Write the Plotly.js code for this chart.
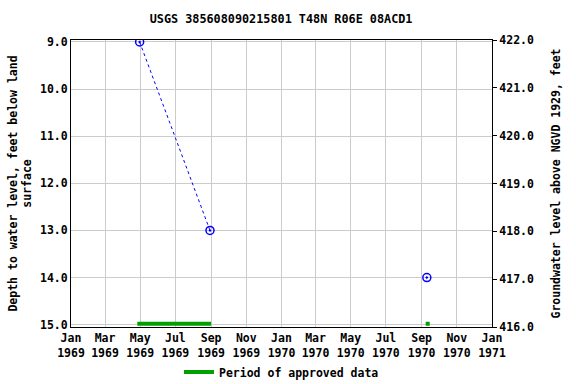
<!DOCTYPE html>
<html>
<head>
<meta charset="utf-8">
<script src="https://cdn.plot.ly/plotly-3.0.1.min.js"></script>
<style>html,body{margin:0;padding:0;background:#fff;}#chart{width:576px;height:384px;}</style>
</head>
<body>
<div id="chart"></div>
<script>
// Measurements
const measDates = ['1969-04-30', '1969-08-30', '1970-09-10'];
const measDepth = [9.0, 13.0, 14.0];
// Approved-data periods
const apprStart = ['1969-04-26', '1970-09-08'];
const apprEnd   = ['1969-09-01', '1970-09-15'];
const apprLevel = 14.98;
// Axis ticks
const xTickVals = ['1969-01-01','1969-03-01','1969-05-01','1969-07-01','1969-09-01','1969-11-01',
                   '1970-01-01','1970-03-01','1970-05-01','1970-07-01','1970-09-01','1970-11-01','1971-01-01'];
const xTickText = ['Jan<br>1969','Mar<br>1969','May<br>1969','Jul<br>1969','Sep<br>1969','Nov<br>1969',
                   'Jan<br>1970','Mar<br>1970','May<br>1970','Jul<br>1970','Sep<br>1970','Nov<br>1970','Jan<br>1971'];
const yTickVals = [9, 10, 11, 12, 13, 14, 15];
const y2TickVals = [416, 417, 418, 419, 420, 421, 422];

const F = '"DejaVu Sans Mono", monospace';
const fnt = (s) => ({family: F, size: s, color: '#000', weight: 'bold'});

// Build approved segments with gaps
const apprX = [], apprY = [];
apprStart.forEach((s, i) => {
  apprX.push(s, apprEnd[i], null);
  apprY.push(apprLevel, apprLevel, null);
});

const traces = [
  {
    x: apprX, y: apprY, mode: 'lines', type: 'scatter',
    line: {color: '#00a000', width: 4},
    name: 'Period of approved data', hoverinfo: 'skip', connectgaps: false
  },
  {
    x: measDates.slice(0, 2), y: measDepth.slice(0, 2), mode: 'lines', type: 'scatter',
    line: {color: '#0000ff', width: 1, dash: 'dot'}, showlegend: false, hoverinfo: 'skip'
  },
  {
    x: measDates, y: measDepth, mode: 'markers', type: 'scatter',
    marker: {symbol: 'circle-open-dot', size: 8, color: '#0000ff', line: {width: 1.5, color: '#0000ff'}},
    showlegend: false
  },
  {
    x: [], y: [], yaxis: 'y2', type: 'scatter', mode: 'markers', showlegend: false, hoverinfo: 'skip'
  }
];

const layout = {
  width: 576, height: 384,
  margin: {l: 71, r: 84, t: 40, b: 57, pad: 0, autoexpand: false},
  paper_bgcolor: '#ffffff', plot_bgcolor: '#ffffff',
  font: fnt(11.5),
  title: {text: 'USGS 385608090215801 T48N R06E 08ACD1', font: fnt(11.8),
          x: 0.488, xanchor: 'center', y: 0.95, yanchor: 'middle'},
  showlegend: true,
  legend: {orientation: 'h', x: 0.5, xanchor: 'center', y: -0.157, yanchor: 'middle',
           font: fnt(11.5), itemwidth: 30},
  xaxis: {
    type: 'date', range: ['1969-01-01', '1971-01-01'],
    tickmode: 'array', tickvals: xTickVals, ticktext: xTickText,
    showgrid: true, gridcolor: '#cccccc', gridwidth: 1,
    showline: true, linecolor: '#000', linewidth: 1, mirror: true,
    ticks: '', zeroline: false, tickfont: fnt(11.5), automargin: false
  },
  yaxis: {
    range: [15.049, 8.958], tickmode: 'array', tickvals: yTickVals, tickformat: '.1f',
    showgrid: true, gridcolor: '#cccccc', gridwidth: 1,
    showline: true, linecolor: '#000', linewidth: 1, mirror: true,
    ticks: '', ticklen: 0, zeroline: false, tickfont: fnt(11.5), automargin: false,
    title: {text: 'Depth to water level, feet below land<br>surface', font: fnt(11.5), standoff: 5}
  },
  yaxis2: {
    overlaying: 'y', side: 'right', range: [416, 422], tickmode: 'array', tickvals: y2TickVals, tickformat: '.1f',
    showgrid: false, zeroline: false, showline: false, automargin: false,
    ticks: 'outside', ticklen: 4, tickcolor: '#000', tickfont: fnt(11.5),
    title: {text: 'Groundwater level above NGVD 1929, feet', font: fnt(11.5), standoff: 18}
  }
};

Plotly.newPlot('chart', traces, layout, {staticPlot: true, displayModeBar: false});
</script>
</body>
</html>
